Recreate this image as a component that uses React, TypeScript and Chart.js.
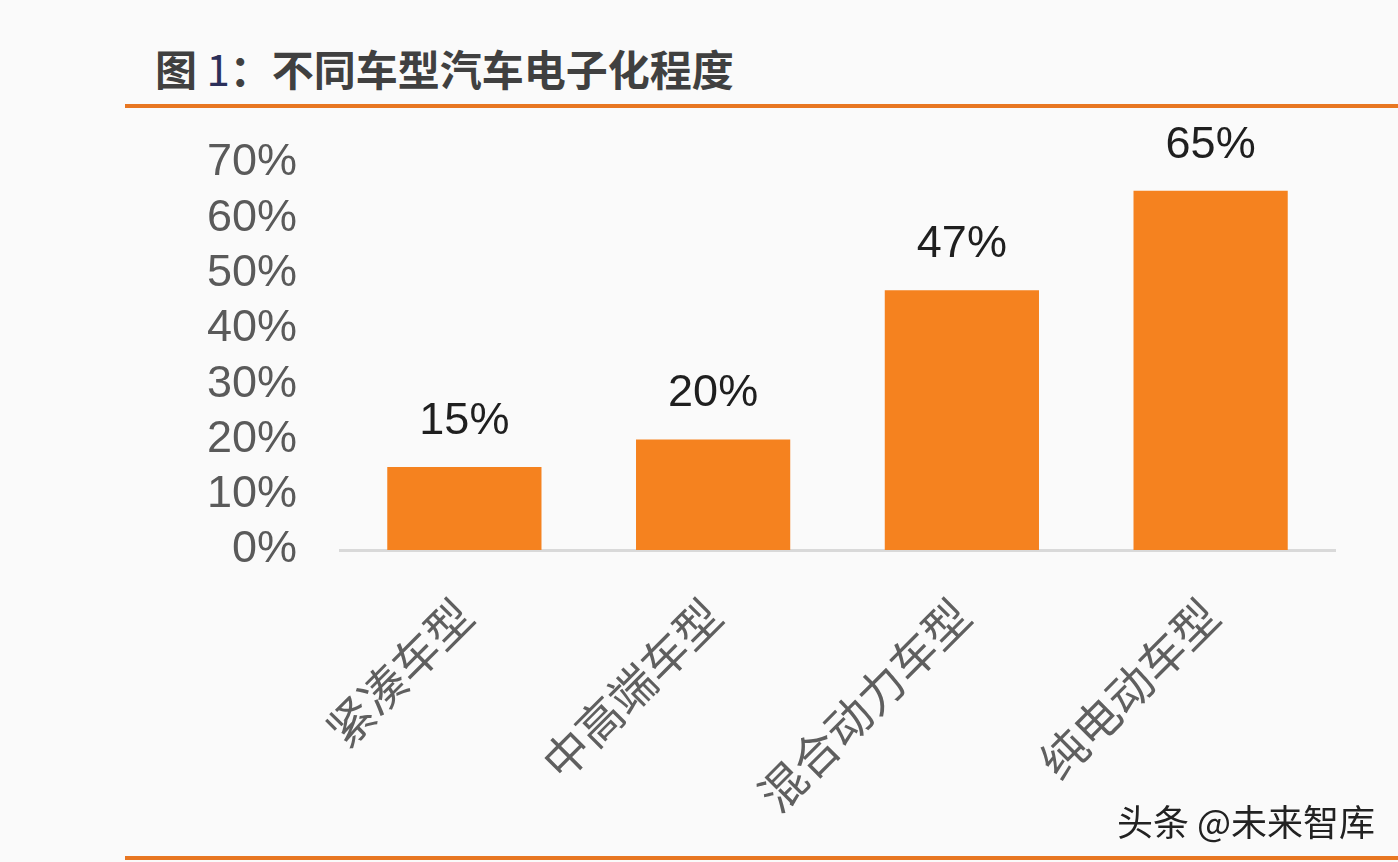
import React, { useEffect, useRef } from "react";
import { Chart, registerables } from "chart.js";

Chart.register(...registerables);

const categories = ["紧凑车型", "中高端车型", "混合动力车型", "纯电动车型"];
const values = [15, 20, 47, 65];
const yTicks = [0, 10, 20, 30, 40, 50, 60, 70];
const titlePrefix = "图 ";
const titleNumber = "1";
const titleRest = "：不同车型汽车电子化程度";
const watermark = "头条 @未来智库";

const valueLabelPlugin = {
  id: "valueLabels",
  afterDatasetsDraw(chart: any) {
    const ctx = chart.ctx;
    const meta = chart.getDatasetMeta(0);
    ctx.save();
    ctx.font = "45px 'Liberation Sans', Arial, sans-serif";
    ctx.fillStyle = "#1f1f1f";
    ctx.textAlign = "center";
    ctx.textBaseline = "alphabetic";
    meta.data.forEach((bar: any, i: number) => {
      ctx.fillText(values[i] + "%", bar.x, bar.y - 33);
    });
    ctx.restore();
  },
};

export default function App() {
  const ref = useRef<HTMLCanvasElement | null>(null);
  useEffect(() => {
    if (!ref.current) return;
    const chart = new Chart(ref.current, {
      type: "bar",
      data: {
        labels: categories,
        datasets: [
          {
            data: values,
            backgroundColor: "#F5821F",
            borderWidth: 0,
            categoryPercentage: 1,
            barPercentage: 0.62,
          },
        ],
      },
      options: {
        animation: false,
        responsive: false,
        maintainAspectRatio: false,
        layout: { padding: { left: 0, right: 63, top: 163, bottom: 0 } },
        plugins: { legend: { display: false }, tooltip: { enabled: false }, title: { display: false } },
        scales: {
          x: {
            grid: { display: false, drawTicks: false },
            border: { display: true, color: "#d9d9d9", width: 3 },
            ticks: {
              autoSkip: false,
              minRotation: 45,
              maxRotation: 45,
              padding: 38,
              color: "#5f5f5f",
              font: { family: "'Noto Sans CJK SC', sans-serif", size: 46 },
            },
            afterFit: (s: any) => {
              s.height = 312;
            },
          },
          y: {
            min: 0,
            max: 70,
            afterBuildTicks: (s: any) => {
              s.ticks = yTicks.map((v) => ({ value: v }));
            },
            grid: { display: false, drawTicks: false },
            border: { display: false },
            ticks: {
              autoSkip: false,
              padding: 43,
              color: "#5a5a5a",
              font: { family: "'Liberation Sans', Arial, sans-serif", size: 45 },
              callback: (v: any) => v + "%",
            },
            afterFit: (s: any) => {
              s.width = 340;
            },
          },
        },
      },
      plugins: [valueLabelPlugin],
    });
    return () => chart.destroy();
  }, []);

  return (
    <div style={{ position: "fixed", left: 0, top: 0, width: 1398, height: 862, background: "#fafafa", overflow: "hidden" }}>
      <div
        style={{
          position: "absolute",
          left: 155,
          top: 38,
          fontFamily: "'Noto Sans CJK SC', sans-serif",
          fontWeight: 700,
          fontSize: 42,
          lineHeight: "60px",
          color: "#404040",
          whiteSpace: "nowrap",
        }}
      >
        {titlePrefix}
        <span style={{ fontWeight: 400, color: "#2b2f5a" }}>{titleNumber}</span>
        {titleRest}
      </div>
      <div style={{ position: "absolute", left: 125, top: 104, width: 1273, height: 4, background: "#E87722" }} />
      <div style={{ position: "absolute", left: 125, top: 856, width: 1273, height: 4, background: "#E87722" }} />
      <canvas ref={ref} width={1398} height={862} style={{ position: "absolute", left: 0, top: 0 }} />
      <div
        style={{
          position: "absolute",
          left: 1117,
          top: 795,
          fontFamily: "'Noto Sans CJK SC', sans-serif",
          fontSize: 36,
          lineHeight: "50px",
          color: "#222222",
          whiteSpace: "nowrap",
        }}
      >
        {watermark}
      </div>
    </div>
  );
}
